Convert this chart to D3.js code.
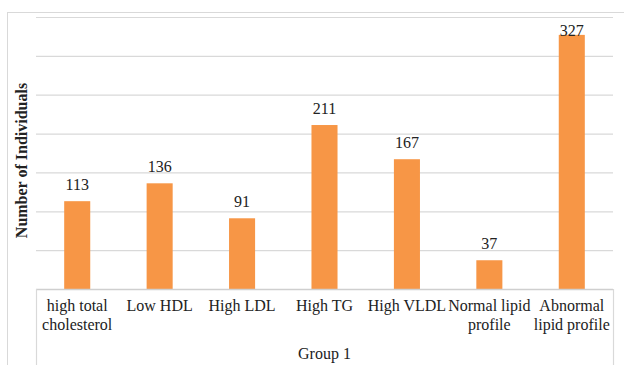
<!DOCTYPE html>
<html>
<head>
<meta charset="utf-8">
<script src="https://cdn.jsdelivr.net/npm/d3@7"></script>
<style>
  html, body { margin: 0; padding: 0; background: #fff; }
  svg { display: block; }
  text { font-family: "Liberation Serif", "Times New Roman", serif; fill: #222; }
</style>
</head>
<body>
<svg id="chart" width="624" height="365"></svg>
<script>
// Lipid profile counts, Group 1
const categories = [
  ["high total", "cholesterol"],
  ["Low HDL"],
  ["High LDL"],
  ["High TG"],
  ["High VLDL"],
  ["Normal lipid", "profile"],
  ["Abnormal", "lipid profile"]
];
const values = [113, 136, 91, 211, 167, 37, 327];
const yTicks = [0, 50, 100, 150, 200, 250, 300, 350];
const groupLabel = "Group 1";
const yTitle = "Number of Individuals";

const svg = d3.select("#chart");
const W = 624, H = 365;
const plot = { left: 36, right: 613, top: 17, bottom: 289 };
const gridColor = "#d9d9d9";
const barColor = "#F79646";

// outer chart frame
svg.append("rect")
  .attr("x", 7.5).attr("y", 12.5)
  .attr("width", W + 20).attr("height", H + 20)
  .attr("fill", "none").attr("stroke", gridColor).attr("stroke-width", 1);

const x = d3.scaleBand()
  .domain(d3.range(categories.length))
  .range([plot.left, plot.right])
  .paddingInner(0.684).paddingOuter(0.342);

const y = d3.scaleLinear()
  .domain([0, d3.max(yTicks)])
  .range([plot.bottom, plot.top]);

// horizontal gridlines
const yAxis = d3.axisLeft(y).tickValues(yTicks).tickSize(-(plot.right - plot.left)).tickFormat("");
const gy = svg.append("g").attr("transform", `translate(${plot.left},0)`).call(yAxis);
gy.select(".domain").remove();
gy.selectAll(".tick line").attr("stroke", gridColor).attr("stroke-width", 1.2);

// bars
svg.append("g").selectAll("rect")
  .data(values)
  .join("rect")
  .attr("x", (d, i) => x(i))
  .attr("y", d => y(d))
  .attr("width", x.bandwidth())
  .attr("height", d => y(0) - y(d))
  .attr("fill", barColor);

// value labels, kept inside the plot area
svg.append("g").selectAll("text")
  .data(values)
  .join("text")
  .attr("x", (d, i) => x(i) + x.bandwidth() / 2)
  .attr("y", d => Math.max(y(d) - 11, plot.top + 19))
  .attr("text-anchor", "middle")
  .attr("font-size", 16)
  .text(d => d);

// category table below the axis
const tableBottom = H + 10;
svg.append("line")
  .attr("x1", plot.left).attr("x2", plot.right)
  .attr("y1", plot.bottom + 0.5).attr("y2", plot.bottom + 0.5)
  .attr("stroke", "#cfcfcf").attr("stroke-width", 1.3);
[plot.left, plot.right].forEach(px => {
  svg.append("line")
    .attr("x1", px + 0.5).attr("x2", px + 0.5)
    .attr("y1", plot.bottom).attr("y2", tableBottom)
    .attr("stroke", gridColor).attr("stroke-width", 1.2);
});

const catG = svg.append("g").selectAll("text")
  .data(categories)
  .join("text")
  .attr("text-anchor", "middle")
  .attr("font-size", 16);
catG.selectAll("tspan")
  .data((d, i) => d.map(line => ({ line, i })))
  .join("tspan")
  .attr("x", d => x(d.i) + x.bandwidth() / 2)
  .attr("y", (d, j) => 311 + j * 19)
  .text(d => d.line);

svg.append("text")
  .attr("x", (plot.left + plot.right) / 2)
  .attr("y", 359)
  .attr("text-anchor", "middle")
  .attr("font-size", 16)
  .text(groupLabel);

// y-axis title
svg.append("text")
  .attr("transform", `translate(27,160.5) rotate(-90)`)
  .attr("text-anchor", "middle")
  .attr("font-size", 16)
  .attr("font-weight", "bold")
  .text(yTitle);
</script>
</body>
</html>
